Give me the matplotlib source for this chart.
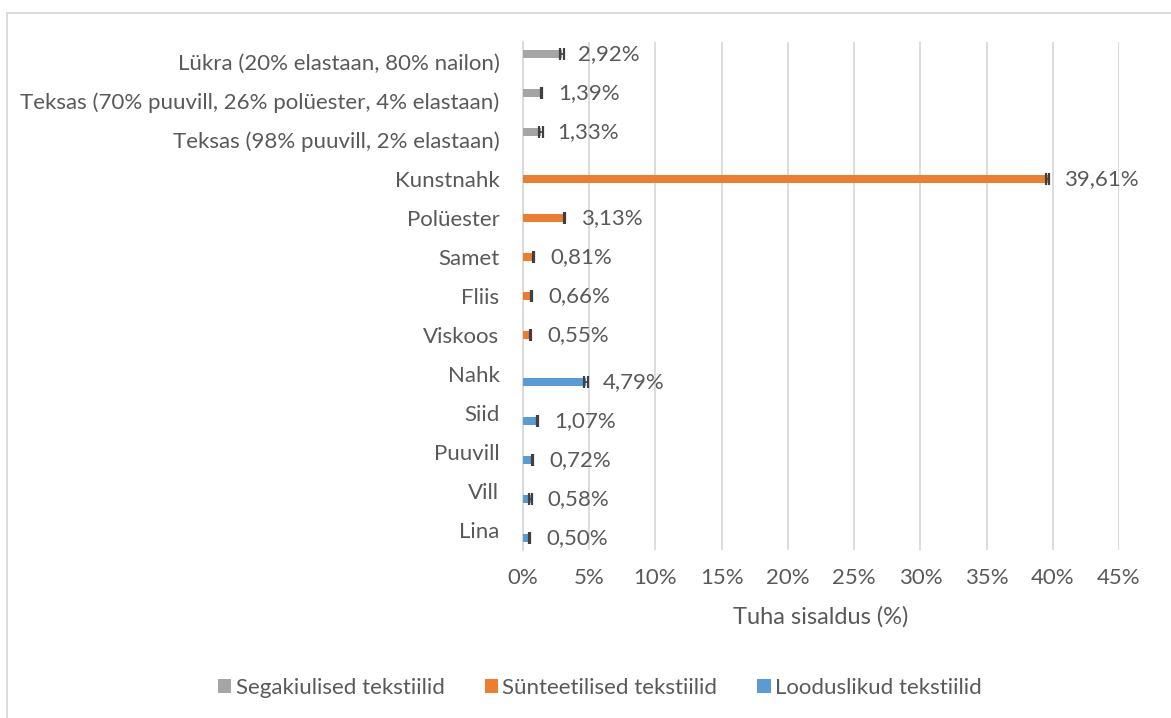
import matplotlib.pyplot as plt
from matplotlib.lines import Line2D
from matplotlib.patches import Patch
from matplotlib.ticker import FuncFormatter

plt.rcParams['font.family'] = ['Lato', 'DejaVu Sans']

# categories listed top to bottom
categories = [
    "Lükra (20% elastaan, 80% nailon)",
    "Teksas (70% puuvill, 26% polüester, 4% elastaan)",
    "Teksas (98% puuvill, 2% elastaan)",
    "Kunstnahk",
    "Polüester",
    "Samet",
    "Fliis",
    "Viskoos",
    "Nahk",
    "Siid",
    "Puuvill",
    "Vill",
    "Lina",
]
ash = [2.92, 1.39, 1.33, 39.61, 3.13, 0.81, 0.66, 0.55, 4.79, 1.07, 0.72, 0.58, 0.50]
ash_err = [0.15, 0.03, 0.15, 0.1, 0.03, 0.03, 0.03, 0.03, 0.15, 0.05, 0.05, 0.1, 0.04]
groups = ["mix"] * 3 + ["syn"] * 5 + ["nat"] * 5

series = [
    ("mix", "Segakiulised tekstiilid", "#A5A5A5", 0.2),
    ("syn", "Sünteetilised tekstiilid", "#ED7D31", 0.0),
    ("nat", "Looduslikud tekstiilid", "#5B9BD5", -0.2),
]

text_col = "#595959"
grid_col = "#D9D9D9"

fig = plt.figure(figsize=(11.71, 7.18), dpi=100)
ax = fig.add_axes([523 / 1171, 1 - 550 / 718, (1119 - 523) / 1171, (550 - 42) / 718])

n = len(categories)
ypos = [n - 1 - i for i in range(n)]

handles = []
for key, name, color, off in series:
    idx = [i for i in range(n) if groups[i] == key]
    ys = [ypos[i] + off for i in idx]
    vals = [ash[i] for i in idx]
    errs = [ash_err[i] for i in idx]
    ax.barh(ys, vals, height=0.2, color=color, zorder=3)
    ax.errorbar(vals, ys, xerr=errs, fmt="none", ecolor="#404040",
                elinewidth=1.2, capsize=4, capthick=1.6, zorder=4)
    for v, y in zip(vals, ys):
        ax.annotate(f"{v:.2f}%".replace(".", ","), (v, y), xytext=(12, 0),
                    textcoords="offset points", va="center", ha="left",
                    fontsize=16, color=text_col)
    handles.append(Patch(facecolor=color, edgecolor="none", label=name))

ax.set_xlim(0, 45)
ax.set_ylim(-0.5, n - 0.5)
ax.set_xticks(range(0, 46, 5))
ax.xaxis.set_major_formatter(FuncFormatter(lambda x, p: f"{x:.0f}%"))
ax.set_yticks(ypos)
ax.set_yticklabels(categories)
ax.tick_params(axis="both", length=0, labelsize=16, labelcolor=text_col)
ax.tick_params(axis="x", pad=13)
ax.tick_params(axis="y", pad=17)
ax.grid(axis="x", color=grid_col, linewidth=1.3, zorder=0)
for s in ["top", "right", "bottom"]:
    ax.spines[s].set_visible(False)
ax.spines["left"].set_color(grid_col)
ax.spines["left"].set_linewidth(1.3)

ax.set_xlabel("Tuha sisaldus (%)", fontsize=17, color=text_col, labelpad=13)

fig.legend(handles=handles, loc="center", bbox_to_anchor=(600 / 1171, 1 - 688 / 718),
           ncol=3, frameon=False, fontsize=16, labelcolor=text_col,
           handlelength=0.6, handleheight=0.6, handletextpad=0.2, columnspacing=1.8)

# chart area frame
fig.add_artist(Line2D([7 / 1171, 7 / 1171], [0, 1 - 12.5 / 718], color=grid_col, lw=1.3,
                      transform=fig.transFigure))
fig.add_artist(Line2D([7 / 1171, 1], [1 - 12.5 / 718, 1 - 12.5 / 718], color=grid_col, lw=1.3,
                      transform=fig.transFigure))

fig.savefig("out.png", dpi=100)
